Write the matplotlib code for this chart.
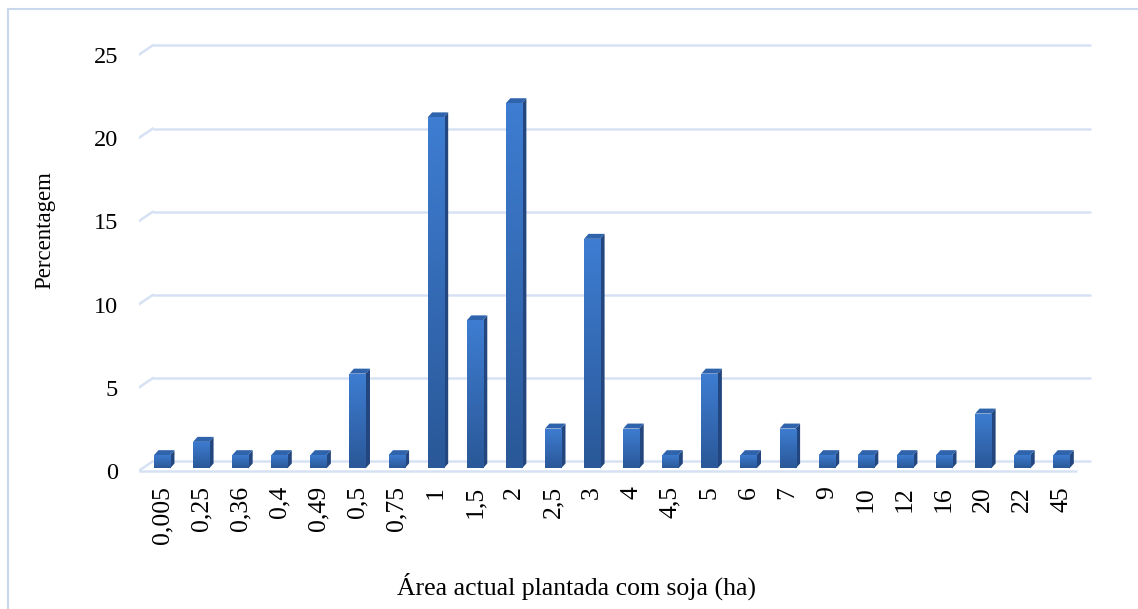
import numpy as np
import matplotlib
matplotlib.use('Agg')
import matplotlib.pyplot as plt
from matplotlib.patches import Polygon, Rectangle
from matplotlib.colors import LinearSegmentedColormap

# categories (area in ha) and share of farmers (%)
categories = ['0,005', '0,25', '0,36', '0,4', '0,49', '0,5', '0,75', '1', '1,5', '2',
              '2,5', '3', '4', '4,5', '5', '6', '7', '9', '10', '12', '16', '20', '22', '45']
percentages = [0.8, 1.6, 0.8, 0.8, 0.8, 5.7, 0.8, 21.1, 8.9, 21.95,
               2.4, 13.8, 2.4, 0.8, 5.7, 0.8, 2.4, 0.8, 0.8, 0.8, 0.8, 3.3, 0.8, 0.8]
y_ticks = [0, 5, 10, 15, 20, 25]

plt.rcParams['font.family'] = ['Liberation Serif', 'DejaVu Serif']

fig = plt.figure(figsize=(11.38, 6.09), dpi=100)
ax = fig.add_axes([138.5 / 1138, 129.7 / 609, (1100.4 - 138.5) / 1138, 449.3 / 609])

grid_col = '#d6e2f3'
# depth of the 3d box (data units)
dx, dy = 0.36, 0.57
x0, x1 = -0.6, 23.4

# back wall gridlines with the little diagonal on the left
for v in y_ticks:
    ax.plot([x0 + dx, x1 + dx], [v + dy, v + dy], color=grid_col, lw=1.8, zorder=1,
            solid_capstyle='butt')
    ax.plot([x0, x0 + dx], [v, v + dy], color=grid_col, lw=1.8, zorder=1)
# front edge of the floor
ax.plot([x0, x1], [0, 0], color=grid_col, lw=1.8, zorder=1, solid_capstyle='butt')

# bars: front face with gradient, dark side and top
x = np.arange(len(categories))
bw = 0.41
base = 0.15
sdx, sdy = 0.115, 0.3
grad = LinearSegmentedColormap.from_list('g', ['#2a5898', '#3e7dd2'])
bars = ax.bar(x, percentages, width=bw, bottom=base, color='#3369b4', zorder=3)
for xi, h, b in zip(x, percentages, bars):
    left = xi - bw / 2
    right = xi + bw / 2
    top = base + h
    im = ax.imshow(np.linspace(0, 1, 100).reshape(-1, 1), cmap=grad, origin='lower',
                   extent=[left, right, base, top], aspect='auto', zorder=3.1)
    im.set_clip_path(b)
    side = Polygon([[right, base], [right + sdx, base + sdy], [right + sdx, top + sdy], [right, top]],
                   closed=True, facecolor='#22467d', edgecolor='none', zorder=3)
    cap = Polygon([[left, top], [right, top], [right + sdx, top + sdy], [left + sdx, top + sdy]],
                  closed=True, facecolor='#2f64ad', edgecolor='none', zorder=3)
    ax.add_patch(side)
    ax.add_patch(cap)

ax.set_xlim(-0.6, 24.0)
ax.set_ylim(-0.5, 26.5)
ax.set_xticks(x)
ax.set_xticklabels(categories, rotation=90, fontsize=18.5)
ax.set_yticks(y_ticks)
ax.set_yticklabels([str(v) for v in y_ticks], fontsize=17.5)
ax.tick_params(axis='y', length=0, pad=14.8)
ax.tick_params(axis='x', length=0, pad=5)
for s in ax.spines.values():
    s.set_visible(False)

fig.text(45 / 1138, 1 - 230 / 609, 'Percentagem', rotation=90, fontsize=16.5,
         ha='center', va='center')
fig.text(577 / 1138, 1 - 586 / 609, 'Área actual plantada com soja (ha)', fontsize=18.5,
         ha='center', va='center')

# outer chart border (light blue)
fig.patches.append(Rectangle((8 / 1138, -0.1), 1.2, 1.1 - 9 / 609, transform=fig.transFigure,
                             fill=False, edgecolor='#c9d8ec', lw=1.5))

fig.savefig('out.png', dpi=100)
